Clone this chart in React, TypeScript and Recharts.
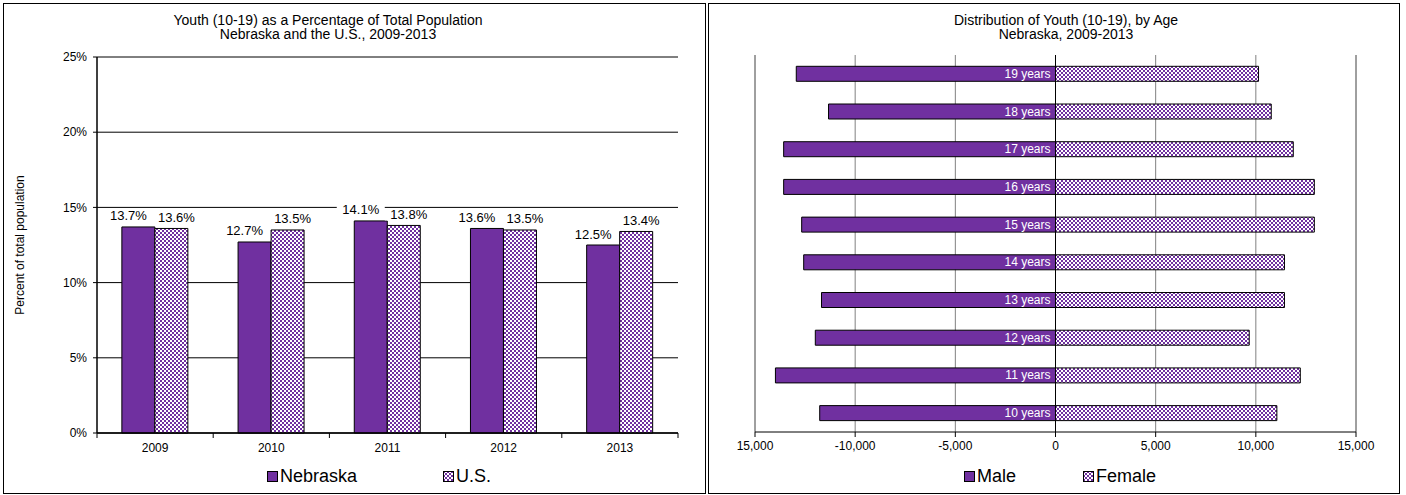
import React from 'react';
import {
  BarChart, Bar, XAxis, YAxis, CartesianGrid, Legend, LabelList, ReferenceLine,
} from 'recharts';

// left chart: youth share of population
const years = ['2009', '2010', '2011', '2012', '2013'];
const nebraskaPct = [13.7, 12.7, 14.1, 13.6, 12.5];
const usPct = [13.6, 13.5, 13.8, 13.5, 13.4];
const pctTicks = [0, 5, 10, 15, 20, 25];
const shareSeries = ['Nebraska', 'U.S.'];

// right chart: Nebraska youth by single year of age
const ages = ['10 years', '11 years', '12 years', '13 years', '14 years', '15 years', '16 years', '17 years', '18 years', '19 years'];
const maleCounts = [11770, 13980, 11990, 11680, 12570, 12670, 13570, 13570, 11330, 12940];
const femaleCounts = [11050, 12220, 9670, 11430, 11430, 12920, 12920, 11870, 10770, 10135];
const countTicks = [-15000, -10000, -5000, 0, 5000, 10000, 15000];
const countTickLabels = ['15,000', '-10,000', '-5,000', '0', '5,000', '10,000', '15,000'];
const ageSeries = ['Male', 'Female'];

const PURPLE = '#7030A0';
const FONT = '"Liberation Sans", Arial, Helvetica, sans-serif';

const shareData = years.map((year, i) => ({ year, nebraska: nebraskaPct[i], us: usPct[i] }));
const ageData = ages.map((age, i) => ({ age, male: -maleCounts[i], female: femaleCounts[i] }));

// layout
const L_W = 701;
const L_H = 489;
const L_MARGIN = { top: 53, right: 27, bottom: 30, left: 5 };
const L_YAXIS_W = 88;
const L_BAND = (L_W - L_MARGIN.left - L_YAXIS_W - L_MARGIN.right) / years.length;

const R_W = 690;
const R_H = 489;
const R_MARGIN = { top: 51, right: 43, bottom: 31, left: 46 };
const R_PLOT_W = R_W - R_MARGIN.left - R_MARGIN.right;
const R_PLOT_H = R_H - R_MARGIN.top - R_MARGIN.bottom - 30;
const R_BAND = R_PLOT_H / ages.length;

const Checker = ({ id }: { id: string }) => (
  <pattern id={id} width="4" height="4" patternUnits="userSpaceOnUse">
    <rect width="4" height="4" fill="#fff" />
    <rect width="2" height="2" fill={PURPLE} />
    <rect x="2" y="2" width="2" height="2" fill={PURPLE} />
  </pattern>
);

const YearTick = (props: any) => {
  const { x, y, payload, index } = props;
  const left = x - L_BAND / 2;
  const right = x + L_BAND / 2;
  return (
    <g>
      <line x1={left} x2={left} y1={y} y2={y + 5} stroke="#000" />
      {index === years.length - 1 && <line x1={right} x2={right} y1={y} y2={y + 5} stroke="#000" />}
      <text x={x} y={y + 15} textAnchor="middle" dominantBaseline="central" fontSize={12} fill="#000">
        {payload.value}
      </text>
    </g>
  );
};

const pctLabel = (dx: number) => (props: any) => {
  const vb = props.viewBox || props;
  const x = vb.x ?? props.x;
  const y = vb.y ?? props.y;
  const width = vb.width ?? props.width;
  const cx = x + width / 2 + dx;
  const cy = y - 11;
  const text = `${Number(props.value).toFixed(1)}%`;
  return (
    <g>
      <rect x={cx - 24} y={cy - 6} width={48} height={12} fill="#fff" />
      <text x={cx} y={cy} textAnchor="middle" dominantBaseline="central" fontSize={13} fill="#000">{text}</text>
    </g>
  );
};

const AgeTick = (props: any) => {
  const { x, y, index } = props;
  const zx = x + R_PLOT_W / 2;
  const top = y - R_BAND / 2;
  return (
    <g>
      <line x1={zx - 4} x2={zx} y1={top} y2={top} stroke="#000" />
      {index === 0 && <line x1={zx - 4} x2={zx} y1={y + R_BAND / 2} y2={y + R_BAND / 2} stroke="#000" />}
    </g>
  );
};

const AgeLabel = (props: any) => {
  const vb = props.viewBox || props;
  const x = vb.x ?? props.x;
  const y = vb.y ?? props.y;
  const width = vb.width ?? props.width;
  const height = vb.height ?? props.height;
  const right = Math.max(x, x + width);
  return (
    <text x={right - 5} y={y + height / 2} textAnchor="end" dominantBaseline="central" fontSize={12} fill="#fff">
      {props.value}
    </text>
  );
};

const LegendRow = ({ names, gap, pid }: { names: string[]; gap: number; pid: string }) => (
  <div style={{ display: 'flex', justifyContent: 'center', gap, fontSize: 18, lineHeight: '20px', color: '#000' }}>
    {names.map((name, i) => (
      <div key={name} style={{ display: 'flex', alignItems: 'center', gap: 2 }}>
        <svg width={11} height={11}>
          <defs><Checker id={pid} /></defs>
          <rect x={0.5} y={0.5} width={10} height={10} fill={i === 0 ? PURPLE : `url(#${pid})`} stroke="#000" />
        </svg>
        <span>{name}</span>
      </div>
    ))}
  </div>
);

const panel: React.CSSProperties = {
  position: 'absolute',
  top: 3,
  height: 491,
  border: '1px solid #000',
  boxSizing: 'border-box',
  background: '#fff',
};

const titleStyle: React.CSSProperties = {
  position: 'absolute',
  top: 10,
  textAlign: 'center',
  fontSize: 14,
  lineHeight: '13.5px',
  color: '#000',
};

export default function App() {
  return (
    <div style={{ position: 'relative', width: 1406, height: 495, fontFamily: FONT, background: '#fff' }}>
      <style>{'body{margin:0;}'}</style>

      <div style={{ ...panel, left: 3, width: 703 }}>
        <div style={{ ...titleStyle, left: 24, width: 600 }}>
          Youth (10-19) as a Percentage of Total Population<br />Nebraska and the U.S., 2009-2013
        </div>
        <BarChart width={L_W} height={L_H} data={shareData} margin={L_MARGIN} barCategoryGap="21.4%" barGap={0}>
          <defs><Checker id="chkL" /></defs>
          <CartesianGrid vertical={false} stroke="#000" />
          <XAxis
            dataKey="year"
            height={30}
            interval={0}
            tickSize={0}
            tickMargin={0}
            tickLine={false}
            axisLine={{ stroke: '#000', strokeWidth: 1.5 }}
            tick={<YearTick />}
          />
          <YAxis
            domain={[0, 25]}
            ticks={pctTicks}
            width={L_YAXIS_W}
            tickSize={4}
            tickMargin={6}
            tickFormatter={(v: number) => `${v}%`}
            tick={{ fontSize: 12, fill: '#000' }}
            tickLine={{ stroke: '#000' }}
            axisLine={{ stroke: '#000', strokeWidth: 1.5 }}
            label={{
              value: 'Percent of total population',
              angle: -90,
              position: 'insideLeft',
              offset: 11,
              style: { textAnchor: 'middle', fontSize: 12, fill: '#000' },
            }}
          />
          <YAxis yAxisId="edge" orientation="right" width={0} tick={false} tickLine={false} axisLine={{ stroke: '#000' }} />
          <Bar dataKey="nebraska" name={shareSeries[0]} fill={PURPLE} stroke="#000" isAnimationActive={false}>
            <LabelList dataKey="nebraska" content={pctLabel(-10)} />
          </Bar>
          <Bar dataKey="us" name={shareSeries[1]} fill="url(#chkL)" stroke="#000" isAnimationActive={false}>
            <LabelList dataKey="us" content={pctLabel(5)} />
          </Bar>
          <Legend
            verticalAlign="middle"
            align="center"
            layout="horizontal"
            wrapperStyle={{ left: 0, top: 462, width: 750 }}
            content={() => <LegendRow names={shareSeries} gap={86} pid="chkLg1" />}
          />
        </BarChart>
      </div>

      <div style={{ ...panel, left: 708, width: 692 }}>
        <div style={{ ...titleStyle, left: 157, width: 400 }}>
          Distribution of Youth (10-19), by Age<br />Nebraska, 2009-2013
        </div>
        <BarChart
          width={R_W}
          height={R_H}
          data={ageData}
          layout="vertical"
          stackOffset="sign"
          margin={R_MARGIN}
          barCategoryGap="30%"
        >
          <defs><Checker id="chkR" /></defs>
          <CartesianGrid horizontal={false} stroke="#808080" />
          <XAxis
            type="number"
            domain={[-15000, 15000]}
            ticks={countTicks}
            interval={0}
            height={30}
            tickSize={5}
            tickMargin={4}
            tickFormatter={(_v: number, i: number) => countTickLabels[i]}
            tick={{ fontSize: 12, fill: '#000' }}
            tickLine={{ stroke: '#000' }}
            axisLine={{ stroke: '#000' }}
          />
          <XAxis
            xAxisId="top"
            orientation="top"
            type="number"
            domain={[-15000, 15000]}
            height={0}
            tick={false}
            tickLine={false}
            axisLine={{ stroke: '#808080' }}
          />
          <YAxis
            type="category"
            dataKey="age"
            reversed
            width={0}
            interval={0}
            tickSize={0}
            tickMargin={0}
            axisLine={false}
            tickLine={false}
            tick={<AgeTick />}
          />
          <ReferenceLine x={-15000} stroke="#808080" />
          <ReferenceLine x={15000} stroke="#808080" />
          <Bar dataKey="male" name={ageSeries[0]} stackId="age" fill={PURPLE} stroke="#000" isAnimationActive={false}>
            <LabelList dataKey="age" content={AgeLabel} />
          </Bar>
          <Bar dataKey="female" name={ageSeries[1]} stackId="age" fill="url(#chkR)" stroke="#000" isAnimationActive={false} />
          <ReferenceLine x={0} stroke="#000" />
          <Legend
            verticalAlign="middle"
            align="center"
            layout="horizontal"
            wrapperStyle={{ left: 0, top: 462, width: 702 }}
            content={() => <LegendRow names={ageSeries} gap={67} pid="chkLg2" />}
          />
        </BarChart>
      </div>
    </div>
  );
}
